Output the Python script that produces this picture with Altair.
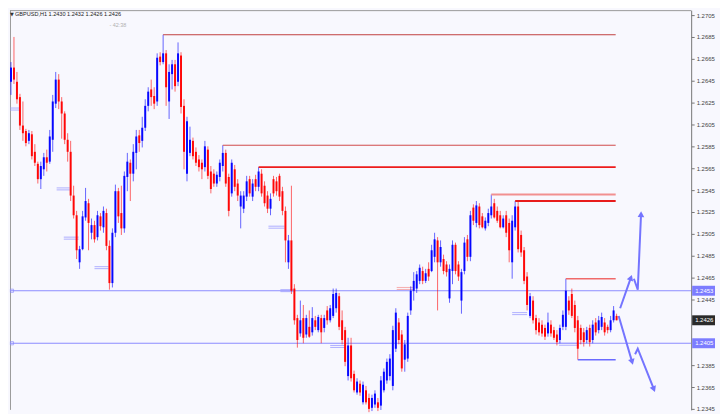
import altair as alt
import pandas as pd

# ---- hourly GBPUSD candles, prices in pips (1/10000) ----
OPEN = [12644,12657,12644,12630,12604,12599,12590,12596,12580,12569,
        12555,12564,12575,12571,12591,12624,12646,12626,12615,12591,
        12580,12540,12522,12479,12491,12520,12533,12506,12513,12502,
        12521,12511,12524,12494,12460,12506,12544,12524,12510,12557,
        12570,12560,12579,12595,12590,12602,12622,12637,12631,12626,
        12667,12662,12670,12626,12651,12660,12644,12668,12622,12560,
        12579,12590,12580,12573,12570,12566,12582,12562,12560,12551,
        12557,12567,12579,12557,12542,12564,12551,12530,12528,12539,
        12555,12539,12555,12548,12560,12549,12540,12528,12555,12553,
        12558,12544,12526,12479,12499,12455,12428,12414,12428,12413,
        12420,12415,12426,12417,12428,12419,12435,12426,12430,12437,
        12448,12426,12417,12375,12403,12377,12360,12368,12351,12362,
        12355,12346,12349,12351,12348,12362,12371,12375,12366,12400,
        12424,12413,12390,12391,12435,12453,12455,12462,12471,12462,
        12473,12471,12484,12499,12479,12482,12477,12446,12471,12495,
        12477,12444,12471,12500,12484,12529,12515,12530,12521,12510,
        12515,12522,12533,12526,12522,12511,12522,12515,12479,12511,
        12530,12504,12490,12466,12430,12444,12428,12424,12422,12419,
        12414,12422,12417,12413,12408,12420,12420,12444,12450,12440,
        12426,12419,12415,12408,12419,12408,12424,12417,12420,12424,
        12420,12417,12426,12430]
HIGH = [12662,12685,12653,12633,12626,12601,12600,12599,12587,12571,
        12571,12579,12582,12600,12632,12653,12651,12630,12617,12597,
        12590,12549,12526,12494,12526,12547,12537,12519,12517,12526,
        12524,12530,12528,12499,12510,12550,12547,12549,12562,12579,
        12573,12587,12600,12600,12612,12628,12639,12646,12639,12670,
        12671,12687,12673,12660,12664,12664,12680,12671,12628,12612,
        12603,12593,12584,12577,12573,12590,12585,12567,12564,12562,
        12573,12586,12582,12560,12573,12568,12555,12544,12544,12558,
        12558,12555,12559,12566,12564,12553,12544,12542,12558,12557,
        12560,12548,12530,12504,12549,12459,12431,12444,12440,12431,
        12435,12438,12430,12431,12431,12431,12439,12440,12455,12455,
        12451,12435,12420,12410,12410,12380,12373,12371,12370,12366,
        12359,12358,12362,12355,12375,12382,12391,12395,12421,12437,
        12428,12417,12408,12433,12457,12470,12471,12477,12475,12473,
        12479,12495,12506,12502,12499,12486,12480,12477,12499,12497,
        12480,12473,12502,12504,12526,12532,12535,12533,12524,12520,
        12528,12541,12537,12530,12526,12522,12526,12519,12522,12535,
        12535,12508,12493,12470,12451,12448,12431,12428,12426,12422,
        12433,12426,12420,12417,12422,12435,12464,12448,12455,12444,
        12430,12422,12419,12420,12422,12426,12428,12430,12433,12428,
        12422,12430,12439,12432]
LOW = [12632,12642,12624,12600,12590,12585,12587,12573,12567,12551,
       12546,12558,12562,12569,12580,12620,12619,12592,12587,12571,
       12535,12519,12482,12473,12490,12517,12490,12500,12497,12499,
       12508,12506,12490,12454,12456,12502,12515,12504,12506,12544,
       12535,12553,12564,12580,12584,12599,12617,12622,12619,12622,
       12659,12660,12622,12610,12637,12635,12640,12615,12564,12553,
       12576,12573,12567,12562,12555,12562,12555,12542,12548,12548,
       12553,12562,12548,12521,12539,12544,12535,12510,12524,12535,
       12539,12535,12544,12544,12539,12530,12524,12522,12539,12540,
       12535,12522,12479,12473,12450,12422,12401,12411,12405,12410,
       12410,12412,12417,12415,12405,12415,12422,12424,12428,12433,
       12417,12404,12384,12371,12370,12360,12358,12357,12349,12349,
       12342,12343,12346,12343,12344,12360,12368,12371,12362,12397,
       12404,12379,12379,12388,12431,12444,12451,12459,12459,12460,
       12462,12470,12479,12435,12475,12468,12466,12442,12459,12468,
       12462,12432,12468,12480,12480,12513,12511,12510,12510,12508,
       12512,12519,12519,12515,12510,12510,12502,12479,12464,12508,
       12488,12484,12459,12435,12428,12423,12413,12412,12411,12408,
       12411,12411,12408,12403,12405,12417,12417,12431,12428,12415,
       12390,12404,12402,12405,12402,12405,12412,12414,12417,12412,
       12414,12415,12424,12426]
CLOSE = [12657,12646,12628,12604,12597,12588,12597,12576,12570,12555,
         12567,12575,12570,12594,12626,12646,12626,12615,12591,12580,
         12540,12522,12490,12491,12521,12535,12515,12513,12500,12522,
         12512,12526,12494,12460,12506,12544,12521,12510,12558,12571,
         12560,12580,12594,12588,12602,12622,12635,12630,12624,12666,
         12662,12670,12639,12653,12660,12640,12670,12621,12580,12608,
         12591,12576,12570,12566,12564,12585,12558,12546,12551,12559,
         12570,12579,12551,12526,12570,12548,12540,12540,12540,12553,
         12542,12551,12548,12562,12542,12533,12528,12537,12542,12544,
         12539,12526,12499,12499,12453,12426,12408,12426,12410,12428,
         12411,12428,12420,12429,12415,12428,12426,12437,12450,12451,
         12420,12408,12388,12403,12373,12362,12370,12360,12367,12351,
         12345,12355,12359,12346,12371,12379,12388,12391,12417,12433,
         12408,12382,12404,12430,12453,12462,12468,12474,12462,12469,
         12466,12490,12500,12479,12493,12471,12470,12473,12495,12471,
         12466,12470,12497,12484,12522,12517,12531,12513,12511,12517,
         12524,12530,12520,12517,12511,12519,12506,12490,12517,12530,
         12491,12488,12462,12440,12448,12426,12417,12415,12414,12411,
         12424,12414,12410,12406,12419,12431,12453,12435,12430,12419,
         12400,12408,12406,12417,12406,12422,12415,12426,12429,12415,
         12417,12426,12435,12426]

# resistance / support lines drawn from swing points (bar index, price in pips)
RES_START = [51, 71, 83, 161, 169, 186]
RES_PRICE = [12687, 12586, 12566, 12541, 12535, 12464]
RES_COLOR = ["#c04040", "#d04a4a", "#ee1c1c", "#f29090", "#e81c1c", "#f06a6a"]
RES_WIDTH = [1, 1, 2, 2, 2, 1.5]
SUP_START = [190]
SUP_PRICE = [12390]
LINE_END = 202.7

# full-width horizontal levels
LEVELS = [12453, 12405]
LEVEL_LABELS = ["1.2453", "1.2405"]
CUR_PRICE = 12426

# small trade marks (double dashes)
MARK_I0 = [-0.3, 15.3, 17.7, 28.0, 86.3, 90.3, 107.0, 168.0, 183.7, 129.3]
MARK_I1 = [3.0, 19.7, 22.7, 32.7, 91.7, 94.7, 112.0, 173.0, 190.3, 134.7]
MARK_P = [12620, 12547, 12502, 12475, 12512, 12454, 12403, 12433, 12405, 12456]
MARK_COLOR = ["#9c9cff"] * 9 + ["#f49a9a"]

# forecast arrows (bar index, price)
ARROW_SEG = ["u1", "u1", "u2", "u2", "u2", "d1", "d1", "d2", "d2", "d2"]
ARROW_I = [204.2, 207.8, 208.8, 210.1, 211.2, 203.7, 208.2, 209.2, 210.1, 215.5]
ARROW_P = [12437, 12465, 12464, 12454, 12523, 12430, 12388, 12395, 12400, 12363]
HEAD_I = [207.8, 211.2, 208.2, 215.5]
HEAD_P = [12465, 12523, 12388, 12363]
HEAD_ANGLE = [19, 2, 164, 158]

TICKS = [1.2345, 1.2365, 1.2385, 1.2445, 1.2465, 1.2485, 1.2505, 1.2525,
         1.2545, 1.2565, 1.2585, 1.2605, 1.2625, 1.2645, 1.2665, 1.2685, 1.2705]

# ---------------------------------------------------------------
P = lambda v: v / 10000.0
N = len(CLOSE)
bars = pd.DataFrame({
    "i": list(range(N)),
    "open": [P(v) for v in OPEN],
    "high": [P(v) for v in HIGH],
    "low": [P(v) for v in LOW],
    "close": [P(v) for v in CLOSE],
    "dir": ["up" if c > o else "down" for o, c in zip(OPEN, CLOSE)],
})

XS = alt.Scale(domain=[-1 / 3, 228], nice=False, zero=False)
YS = alt.Scale(domain=[1.23441, 1.27095], nice=False, zero=False)
YAX = alt.Axis(orient="right", values=TICKS, format=".4f", labelFontSize=6,
               labelColor="#444", labelFont="Liberation Sans", tickSize=3,
               tickColor="#777", domainColor="#777", labelPadding=2,
               grid=False, title=None)


def X(f):
    return alt.X(f, type="quantitative", scale=XS, axis=None)


def Y(f):
    return alt.Y(f, type="quantitative", scale=YS, axis=YAX)


COL = alt.Color("dir:N", scale=alt.Scale(domain=["up", "down"], range=["#0000ff", "#ff0000"]), legend=None)

wicks = alt.Chart(bars).mark_rule(strokeWidth=1, opacity=0.6).encode(
    x=X("i"), y=Y("low"), y2="high", color=COL)
bodies = alt.Chart(bars).mark_rule(strokeWidth=2, opacity=0.95).encode(
    x=X("i"), y=Y("open"), y2="close", color=COL)

res = pd.DataFrame({
    "i0": RES_START + SUP_START,
    "i1": [LINE_END] * (len(RES_START) + len(SUP_START)),
    "p": [P(v) for v in RES_PRICE + SUP_PRICE],
    "c": RES_COLOR + ["#6a6aff"],
    "w": RES_WIDTH + [1.5],
})
res_lines = alt.Chart(res).mark_rule().encode(
    x=X("i0"), x2="i1", y=Y("p"),
    color=alt.Color("c:N", scale=None),
    strokeWidth=alt.StrokeWidth("w:Q", scale=None))

lv = pd.DataFrame({"p": [P(v) for v in LEVELS], "lab": LEVEL_LABELS})
level_lines = alt.Chart(lv).mark_rule(color="#8c8cff", strokeWidth=1).encode(
    x=alt.value(0), x2=alt.value(685), y=Y("p"))
level_sq = alt.Chart(lv).mark_point(shape="square", size=10, filled=False,
                                    color="#8c8cff", strokeWidth=1).encode(
    x=alt.value(2), y=Y("p"))

mk = pd.DataFrame({"i0": MARK_I0, "i1": MARK_I1, "p": [P(v) for v in MARK_P], "c": MARK_COLOR})
marks1 = alt.Chart(mk).mark_rule(strokeWidth=1, opacity=0.8).encode(
    x=X("i0"), x2="i1", y=Y("p"), color=alt.Color("c:N", scale=None))
marks2 = alt.Chart(mk).mark_rule(strokeWidth=1, opacity=0.8, yOffset=2).encode(
    x=X("i0"), x2="i1", y=Y("p"), color=alt.Color("c:N", scale=None))

ar = pd.DataFrame({"seg": ARROW_SEG, "o": list(range(len(ARROW_I))),
                   "i": ARROW_I, "p": [P(v) for v in ARROW_P]})
arrows = alt.Chart(ar).mark_line(color="#7474ff", strokeWidth=2).encode(
    x=X("i"), y=Y("p"), detail="seg:N", order="o:Q")
hd = pd.DataFrame({"i": HEAD_I, "p": [P(v) for v in HEAD_P], "a": HEAD_ANGLE})
heads = alt.Chart(hd).mark_point(shape="triangle-up", filled=True, size=45,
                                 color="#7474ff", opacity=1).encode(
    x=X("i"), y=Y("p"), angle=alt.Angle("a:Q", scale=None))

# price boxes on the axis
box = pd.DataFrame({
    "p": [P(v) for v in LEVELS] + [P(CUR_PRICE)],
    "lab": LEVEL_LABELS + [f"{P(CUR_PRICE):.4f}"],
    "c": ["#7c7cff", "#7c7cff", "#2a2a2a"],
})
box_bg = alt.Chart(box).mark_rule(strokeWidth=10, strokeCap="butt").encode(
    x=alt.value(686), x2=alt.value(709), y=Y("p"), color=alt.Color("c:N", scale=None))
box_tx = alt.Chart(box).mark_text(align="left", baseline="middle", fontSize=6,
                                  font="Liberation Sans", color="white").encode(
    x=alt.value(689), y=Y("p"), text="lab:N")

# header
hdr_txt = f"GBPUSD,H1 {P(OPEN[-1]):.4f} {P(HIGH[-1]):.4f} {P(LOW[-1]):.4f} {P(CLOSE[-1]):.4f}"
hdr = pd.DataFrame({"t": [hdr_txt]})
header = alt.Chart(hdr).mark_text(align="left", baseline="middle", fontSize=5.6,
                                  font="Liberation Sans", color="#222").encode(
    x=alt.value(5), y=alt.value(4), text="t:N")
tri = alt.Chart(pd.DataFrame({"t": ["▼"]})).mark_text(
    align="left", baseline="middle", fontSize=5, font="DejaVu Sans", color="#333").encode(
    x=alt.value(0), y=alt.value(4), text="t:N")
timer = alt.Chart(pd.DataFrame({"t": ["- 42:38"]})).mark_text(
    align="left", baseline="middle", fontSize=5.5, font="Liberation Sans", color="#b0b0b0").encode(
    x=alt.value(100), y=alt.value(15), text="t:N")

frame_top = alt.Chart(pd.DataFrame({"a": [0]})).mark_rule(color="#9a9a9a", strokeWidth=1).encode(
    x=alt.value(0), x2=alt.value(685), y=alt.value(0.5))
frame_left = alt.Chart(pd.DataFrame({"a": [0]})).mark_rule(color="#9a9a9a", strokeWidth=1).encode(
    x=alt.value(0.5), y=alt.value(0), y2=alt.value(402))

chart = alt.layer(
    frame_top, frame_left, level_lines, level_sq, marks1, marks2,
    wicks, bodies, res_lines, arrows, heads, box_bg, box_tx, header, tri, timer,
).properties(width=685, height=402, padding=0).configure(
    background="#f8f8fe"
).configure_view(stroke=None, fill="#f8f8fe")

chart.save("out.html", embed_options={"renderer": "svg", "actions": False})
